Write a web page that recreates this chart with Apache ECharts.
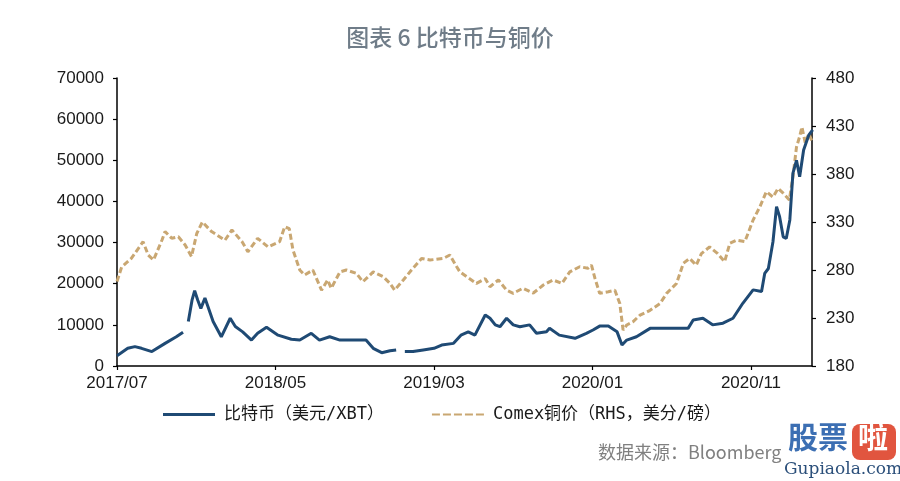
<!DOCTYPE html>
<html>
<head>
<meta charset="utf-8">
<script src="https://cdn.jsdelivr.net/npm/echarts@6/dist/echarts.min.js"></script>
<style>html,body{margin:0;padding:0;background:#fff}#c{width:900px;height:481px}</style>
</head>
<body>
<div id="c"></div>
<script>
// ---------- data ----------
var titleText = '图表 6 比特币与铜价';
var btcName = '比特币（美元/XBT）';
var cuName = 'Comex铜价（RHS，美分/磅）';
var sourceText = '数据来源：Bloomberg';
var leftTicks = [0, 70000, 10000];
var rightTicks = [180, 480, 50];

var btcDates = ['2017-07-01','2017-07-22','2017-08-05','2017-08-18','2017-09-07','2017-10-02','2017-10-24','2017-11-06','2017-11-10',
  '2017-11-16','2017-11-23','2017-11-28','2017-12-04','2017-12-10','2017-12-18','2017-12-24','2018-01-03','2018-01-19','2018-02-05',
  '2018-02-14','2018-02-27','2018-03-16','2018-03-28','2018-04-14','2018-05-06','2018-06-01','2018-06-17','2018-07-09','2018-07-25',
  '2018-08-14','2018-09-03','2018-09-28','2018-10-23','2018-11-06','2018-11-22','2018-12-08','2018-12-20','2018-12-28','2019-01-06',
  '2019-01-22','2019-02-10','2019-03-01','2019-03-16','2019-04-08','2019-04-22','2019-05-06','2019-05-19','2019-06-08','2019-06-17',
  '2019-06-27','2019-07-06','2019-07-19','2019-08-01','2019-08-14','2019-09-02','2019-09-15','2019-10-04','2019-10-10','2019-10-29',
  '2019-11-28','2019-12-20','2020-01-02','2020-01-15','2020-02-01','2020-02-17','2020-02-26','2020-03-06','2020-03-25','2020-04-20',
  '2020-05-15','2020-06-10','2020-07-02','2020-07-12','2020-07-31','2020-08-19','2020-09-08','2020-09-27','2020-10-16','2020-11-05',
  '2020-11-21','2020-11-27','2020-12-04','2020-12-13','2020-12-20','2020-12-26','2021-01-02','2021-01-08','2021-01-15','2021-01-21',
  '2021-01-28','2021-02-03','2021-02-10','2021-02-19','2021-02-26'];
var btcValues = [2500,4300,4700,4300,3500,5500,7100,8200,null,
  10800,16000,18300,16000,14000,16500,14400,10800,7100,11600,
  9600,8300,6300,7950,9400,7500,6500,6300,7950,6300,
  7100,6300,6300,6300,4300,3240,3700,3900,null,3500,
  3500,3900,4300,5100,5500,7500,8300,7500,12400,11600,
  10000,9550,11600,10000,9550,10000,7950,8300,9150,7500,
  6730,7950,8750,9700,9700,8300,5100,6300,7100,9150,
  9150,9150,9150,11200,11600,10000,10400,11600,15240,18500,
  18100,22500,23700,30200,38700,36300,31400,31000,35500,46800,
  50000,46000,52500,56100,57400];

var cuDates = ['2017-07-01','2017-07-10','2017-07-29','2017-08-21','2017-08-31','2017-09-10','2017-09-26','2017-10-02','2017-10-15',
  '2017-10-28','2017-11-10','2017-11-22','2017-12-02','2017-12-13','2017-12-31','2018-01-26','2018-02-08','2018-02-26','2018-03-09',
  '2018-03-28','2018-04-17','2018-05-09','2018-05-19','2018-05-28','2018-06-04','2018-06-17','2018-06-26','2018-07-12','2018-07-29',
  '2018-08-10','2018-08-17','2018-09-03','2018-09-15','2018-10-04','2018-10-17','2018-11-06','2018-11-25','2018-12-08','2018-12-17',
  '2019-01-03','2019-01-19','2019-02-07','2019-02-22','2019-03-19','2019-04-01','2019-04-14','2019-04-20','2019-05-03','2019-05-22',
  '2019-06-08','2019-06-17','2019-07-03','2019-07-19','2019-08-01','2019-08-20','2019-09-09','2019-09-28','2019-10-17','2019-11-03',
  '2019-11-18','2019-12-07','2019-12-23','2019-12-30','2020-01-06','2020-01-15','2020-02-01','2020-02-13','2020-02-22','2020-02-28',
  '2020-03-06','2020-03-18','2020-04-01','2020-04-20','2020-05-09','2020-05-22','2020-06-10','2020-06-23','2020-07-05','2020-07-18',
  '2020-07-28','2020-08-13','2020-08-29','2020-09-11','2020-09-21','2020-10-04','2020-10-20','2020-11-05','2020-11-18','2020-11-30',
  '2020-12-13','2020-12-23','2021-01-02','2021-01-14','2021-01-21','2021-01-28','2021-02-03','2021-02-07','2021-02-13','2021-02-19',
  '2021-02-25'];
var cuValues = [268,283,292,309.5,295.6,290.4,311,320,313,
  314.7,306,294,318,330,320,311,321.7,309.5,299,
  313,304,309.5,325,323,301,280,274.8,280,259,
  269.6,261,278,280,276.6,267.8,278,273,266,259,
  269.6,280,292,290.4,292,295.6,283.4,278,273,266,
  271,262.6,269.6,259,255.7,261,256,264.4,269.6,266,
  278,283.4,281.8,285,271,255.7,257.4,259,245,217.5,
  222.7,226,233,238,245,255.7,266,287,292,285,
  297,304,297,288.6,307.8,311,309.5,332,346,361.6,
  356,365,360,353,377,408,419,429,412,422,
  414];

// ---------- helpers ----------
var START_Y = 2017, START_M = 7, X_MAX = 43.85, X_STEP = 10;
function toMonths(s) {
  var p = s.split('-').map(Number);
  var dim = new Date(p[0], p[1], 0).getDate();
  return (p[0] - START_Y) * 12 + (p[1] - START_M) + (p[2] - 1) / dim;
}
function pairs(dates, vals) {
  return dates.map(function (d, i) { return [toMonths(d), vals[i]]; });
}
function monthLabel(v) {
  var total = START_M - 1 + Math.round(v);
  var y = START_Y + Math.floor(total / 12);
  var m = total % 12 + 1;
  return y + '/' + (m < 10 ? '0' + m : m);
}
function plain(v) { return String(v); }

var BTC_COLOR = '#1f4a74', CU_COLOR = '#c9a772';
var axisFont = { fontFamily: 'Liberation Sans, Arial, sans-serif', fontSize: 17, color: '#1a1a1a' };
var axisLine = { show: true, lineStyle: { color: '#000', width: 1.5 } };
var axisTick = { show: true, inside: false, length: 4, lineStyle: { color: '#000', width: 1.2 } };
var dashIcon = 'path://M0 0H8V2H0Z M11 0H19V2H11Z M22 0H30V2H22Z M33 0H41V2H33Z M44 0H52V2H44Z';

var chart = echarts.init(document.getElementById('c'), null, { renderer: 'canvas' });
chart.setOption({
  animation: false,
  backgroundColor: '#fff',
  title: {
    text: titleText, left: 'center', top: 21,
    textStyle: { fontFamily: 'Noto Sans CJK SC', fontSize: 23, fontWeight: 500, color: '#6f7c88' }
  },
  grid: { left: 117, right: 88, top: 78, bottom: 115 },
  legend: {
    left: 158, top: 401, itemWidth: 52, itemHeight: 3, itemGap: 48,
    textStyle: { fontFamily: 'DejaVu Sans Mono, Noto Sans CJK SC, monospace', fontSize: 17, color: '#1a1a1a', padding: [0, 0, 0, 4] },
    data: [
      { name: btcName, icon: 'rect', itemStyle: { color: BTC_COLOR } },
      { name: cuName, icon: dashIcon, itemStyle: { color: CU_COLOR } }
    ]
  },
  xAxis: {
    type: 'value', min: 0, max: X_MAX, interval: X_STEP,
    axisLine: axisLine, axisTick: axisTick, splitLine: { show: false },
    axisLabel: Object.assign({ margin: 9, formatter: monthLabel, showMaxLabel: false }, axisFont)
  },
  yAxis: [{
    type: 'value', min: leftTicks[0], max: leftTicks[1], interval: leftTicks[2], position: 'left',
    axisLine: axisLine, axisTick: axisTick, splitLine: { show: false },
    axisLabel: Object.assign({ margin: 13, formatter: plain }, axisFont)
  }, {
    type: 'value', min: rightTicks[0], max: rightTicks[1], interval: rightTicks[2], position: 'right',
    axisLine: axisLine, axisTick: axisTick, splitLine: { show: false },
    axisLabel: Object.assign({ margin: 14, formatter: plain }, axisFont)
  }],
  series: [{
    name: btcName, type: 'line', yAxisIndex: 0, showSymbol: false, symbol: 'none',
    connectNulls: false, z: 3,
    lineStyle: { color: BTC_COLOR, width: 3 }, itemStyle: { color: BTC_COLOR },
    data: pairs(btcDates, btcValues)
  }, {
    name: cuName, type: 'line', yAxisIndex: 1, showSymbol: false, symbol: 'none', z: 2,
    lineStyle: { color: CU_COLOR, width: 3, type: [6, 3] }, itemStyle: { color: CU_COLOR },
    data: pairs(cuDates, cuValues)
  }],
  graphic: [{
    type: 'text', left: 598, top: 443,
    style: { text: sourceText, font: '18px "Noto Sans CJK SC", sans-serif', fill: '#808080' }
  }, {
    type: 'text', left: 788, top: 422,
    style: { text: '股票', font: 'bold 30px "Noto Sans CJK SC", sans-serif', fill: '#3c6fb3' }
  }, {
    type: 'rect', shape: { x: 852, y: 424, width: 44, height: 36, r: 8 },
    style: { fill: '#e1553f' }
  }, {
    type: 'text', left: 858, top: 422,
    style: { text: '啦', font: 'bold 30px "Noto Sans CJK SC", sans-serif', fill: '#fff' }
  }, {
    type: 'text', left: 784, top: 461,
    style: { text: 'Gupiaola.com', font: '17px "DejaVu Serif", "Liberation Serif", serif', fill: '#2b4f7a' }
  }]
});
</script>
</body>
</html>
